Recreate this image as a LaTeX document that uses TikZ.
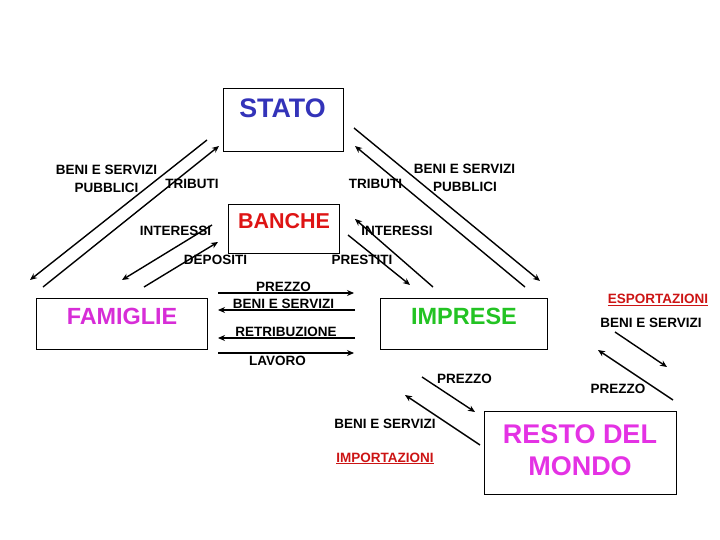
\documentclass[tikz,border=0pt]{standalone}
\usepackage{fontspec}
\setmainfont{Liberation Sans}
\usetikzlibrary{arrows.meta}

\definecolor{statoblue}{RGB}{51,51,185}
\definecolor{bancared}{RGB}{222,20,20}
\definecolor{fammag}{RGB}{215,45,215}
\definecolor{impgreen}{RGB}{35,195,35}
\definecolor{restomag}{RGB}{228,50,228}
\definecolor{scambired}{RGB}{204,20,20}

\tikzset{
    sector/.style={draw,line width=0.8pt,inner sep=0pt},
    big/.style={inner sep=0pt,font=\fontsize{#1}{#1}\selectfont\bfseries},
    lbl/.style={inner sep=0pt,font=\fontsize{13.5}{16}\selectfont\bfseries},
    flow/.style={line width=1.4pt,-{Stealth[length=7pt,width=6pt]}},
}

\begin{document}
\begin{tikzpicture}[x=1pt,y=-1pt]
    \useasboundingbox (0,0) rectangle (720,540);

    \node[sector,minimum width=120pt,minimum height=63pt] (stato) at (283,119.5) {};
    \node[sector,minimum width=111pt,minimum height=49pt] (banche) at (283.5,228.5) {};
    \node[sector,minimum width=171pt,minimum height=51pt] (famiglie) at (121.5,323.5) {};
    \node[sector,minimum width=167pt,minimum height=51pt] (imprese) at (463.5,323.5) {};
    \node[sector,minimum width=192pt,minimum height=83pt] (resto) at (580,452.5) {};

    \node[big=26.8,text=statoblue] (statotxt) at (282.5,108.5) {STATO};
    \node[big=21.5,text=bancared] (banchetxt) at (284,221) {BANCHE};
    \node[big=23.4,text=fammag] (famigliettxt) at (122,316) {FAMIGLIE};
    \node[big=23.5,text=impgreen] (impresetxt) at (464,316) {IMPRESE};
    \node[big=27,text=restomag,font=\fontsize{27}{32}\selectfont\bfseries,align=center] (restotxt) at (580,450) {RESTO DEL\\MONDO};

    \coordinate (bpsx1) at (207,140);
    \coordinate (bpsx2) at (30,280);
    \coordinate (trsx1) at (43,287);
    \coordinate (trsx2) at (219,146);
    \coordinate (insx1) at (212,225);
    \coordinate (insx2) at (122,280);
    \coordinate (de1) at (144,287);
    \coordinate (de2) at (218,242);
    \coordinate (bpdx1) at (354,128);
    \coordinate (bpdx2) at (540,281);
    \coordinate (trdx1) at (525,287);
    \coordinate (trdx2) at (355,146);
    \coordinate (indx1) at (433,287);
    \coordinate (indx2) at (355,219);
    \coordinate (pr1) at (348,235);
    \coordinate (pr2) at (410,285);
    \coordinate (pzfi1) at (218,293);
    \coordinate (pzfi2) at (354,293);
    \coordinate (bsfi1) at (355,310);
    \coordinate (bsfi2) at (218,310);
    \coordinate (re1) at (355,338);
    \coordinate (re2) at (218,338);
    \coordinate (la1) at (218,353);
    \coordinate (la2) at (354,353);
    \coordinate (pzim1) at (422,377);
    \coordinate (pzim2) at (475,412);
    \coordinate (bsim1) at (480,445);
    \coordinate (bsim2) at (405,395);
    \coordinate (bses1) at (615,332);
    \coordinate (bses2) at (667,367);
    \coordinate (pzes1) at (673,400);
    \coordinate (pzes2) at (598,350);

    \draw[flow] (bpsx1) -- (bpsx2);
    \draw[flow] (trsx1) -- (trsx2);
    \draw[flow] (insx1) -- (insx2);
    \draw[flow] (de1) -- (de2);
    \draw[flow] (bpdx1) -- (bpdx2);
    \draw[flow] (trdx1) -- (trdx2);
    \draw[flow] (indx1) -- (indx2);
    \draw[flow] (pr1) -- (pr2);
    \draw[flow] (pzfi1) -- (pzfi2);
    \draw[flow] (bsfi1) -- (bsfi2);
    \draw[flow] (re1) -- (re2);
    \draw[flow] (la1) -- (la2);
    \draw[flow] (pzim1) -- (pzim2);
    \draw[flow] (bsim1) -- (bsim2);
    \draw[flow] (bses1) -- (bses2);
    \draw[flow] (pzes1) -- (pzes2);

    \node[lbl] (bpsxa) at (106.5,169.5) {BENI E SERVIZI};
    \node[lbl] (bpsxb) at (106.5,187.5) {PUBBLICI};
    \node[lbl] (trsx) at (192,184) {TRIBUTI};
    \node[lbl] (insx) at (175.5,231) {INTERESSI};
    \node[lbl] (de) at (215.5,260) {DEPOSITI};
    \node[lbl] (trdx) at (375.5,184) {TRIBUTI};
    \node[lbl] (bpdxa) at (464.5,169) {BENI E SERVIZI};
    \node[lbl] (bpdxb) at (465,187) {PUBBLICI};
    \node[lbl] (indx) at (397,231) {INTERESSI};
    \node[lbl] (pr) at (362,260) {PRESTITI};
    \node[lbl] (pzfi) at (283.5,287) {PREZZO};
    \node[lbl] (bsfi) at (283.5,304) {BENI E SERVIZI};
    \node[lbl] (re) at (286,332) {RETRIBUZIONE};
    \node[lbl] (la) at (277.5,360.5) {LAVORO};
    \node[lbl] (pzim) at (464.5,378.5) {PREZZO};
    \node[lbl] (bsim) at (385,424) {BENI E SERVIZI};
    \node[lbl,text=scambired,anchor=base] (imp) at (385,462) {\underline{IMPORTAZIONI}};
    \node[lbl,text=scambired,anchor=base] (esp) at (658,303.5) {\underline{ESPORTAZIONI}};
    \node[lbl] (bses) at (651,322.5) {BENI E SERVIZI};
    \node[lbl] (pzes) at (618,389) {PREZZO};
\end{tikzpicture}
\end{document}
